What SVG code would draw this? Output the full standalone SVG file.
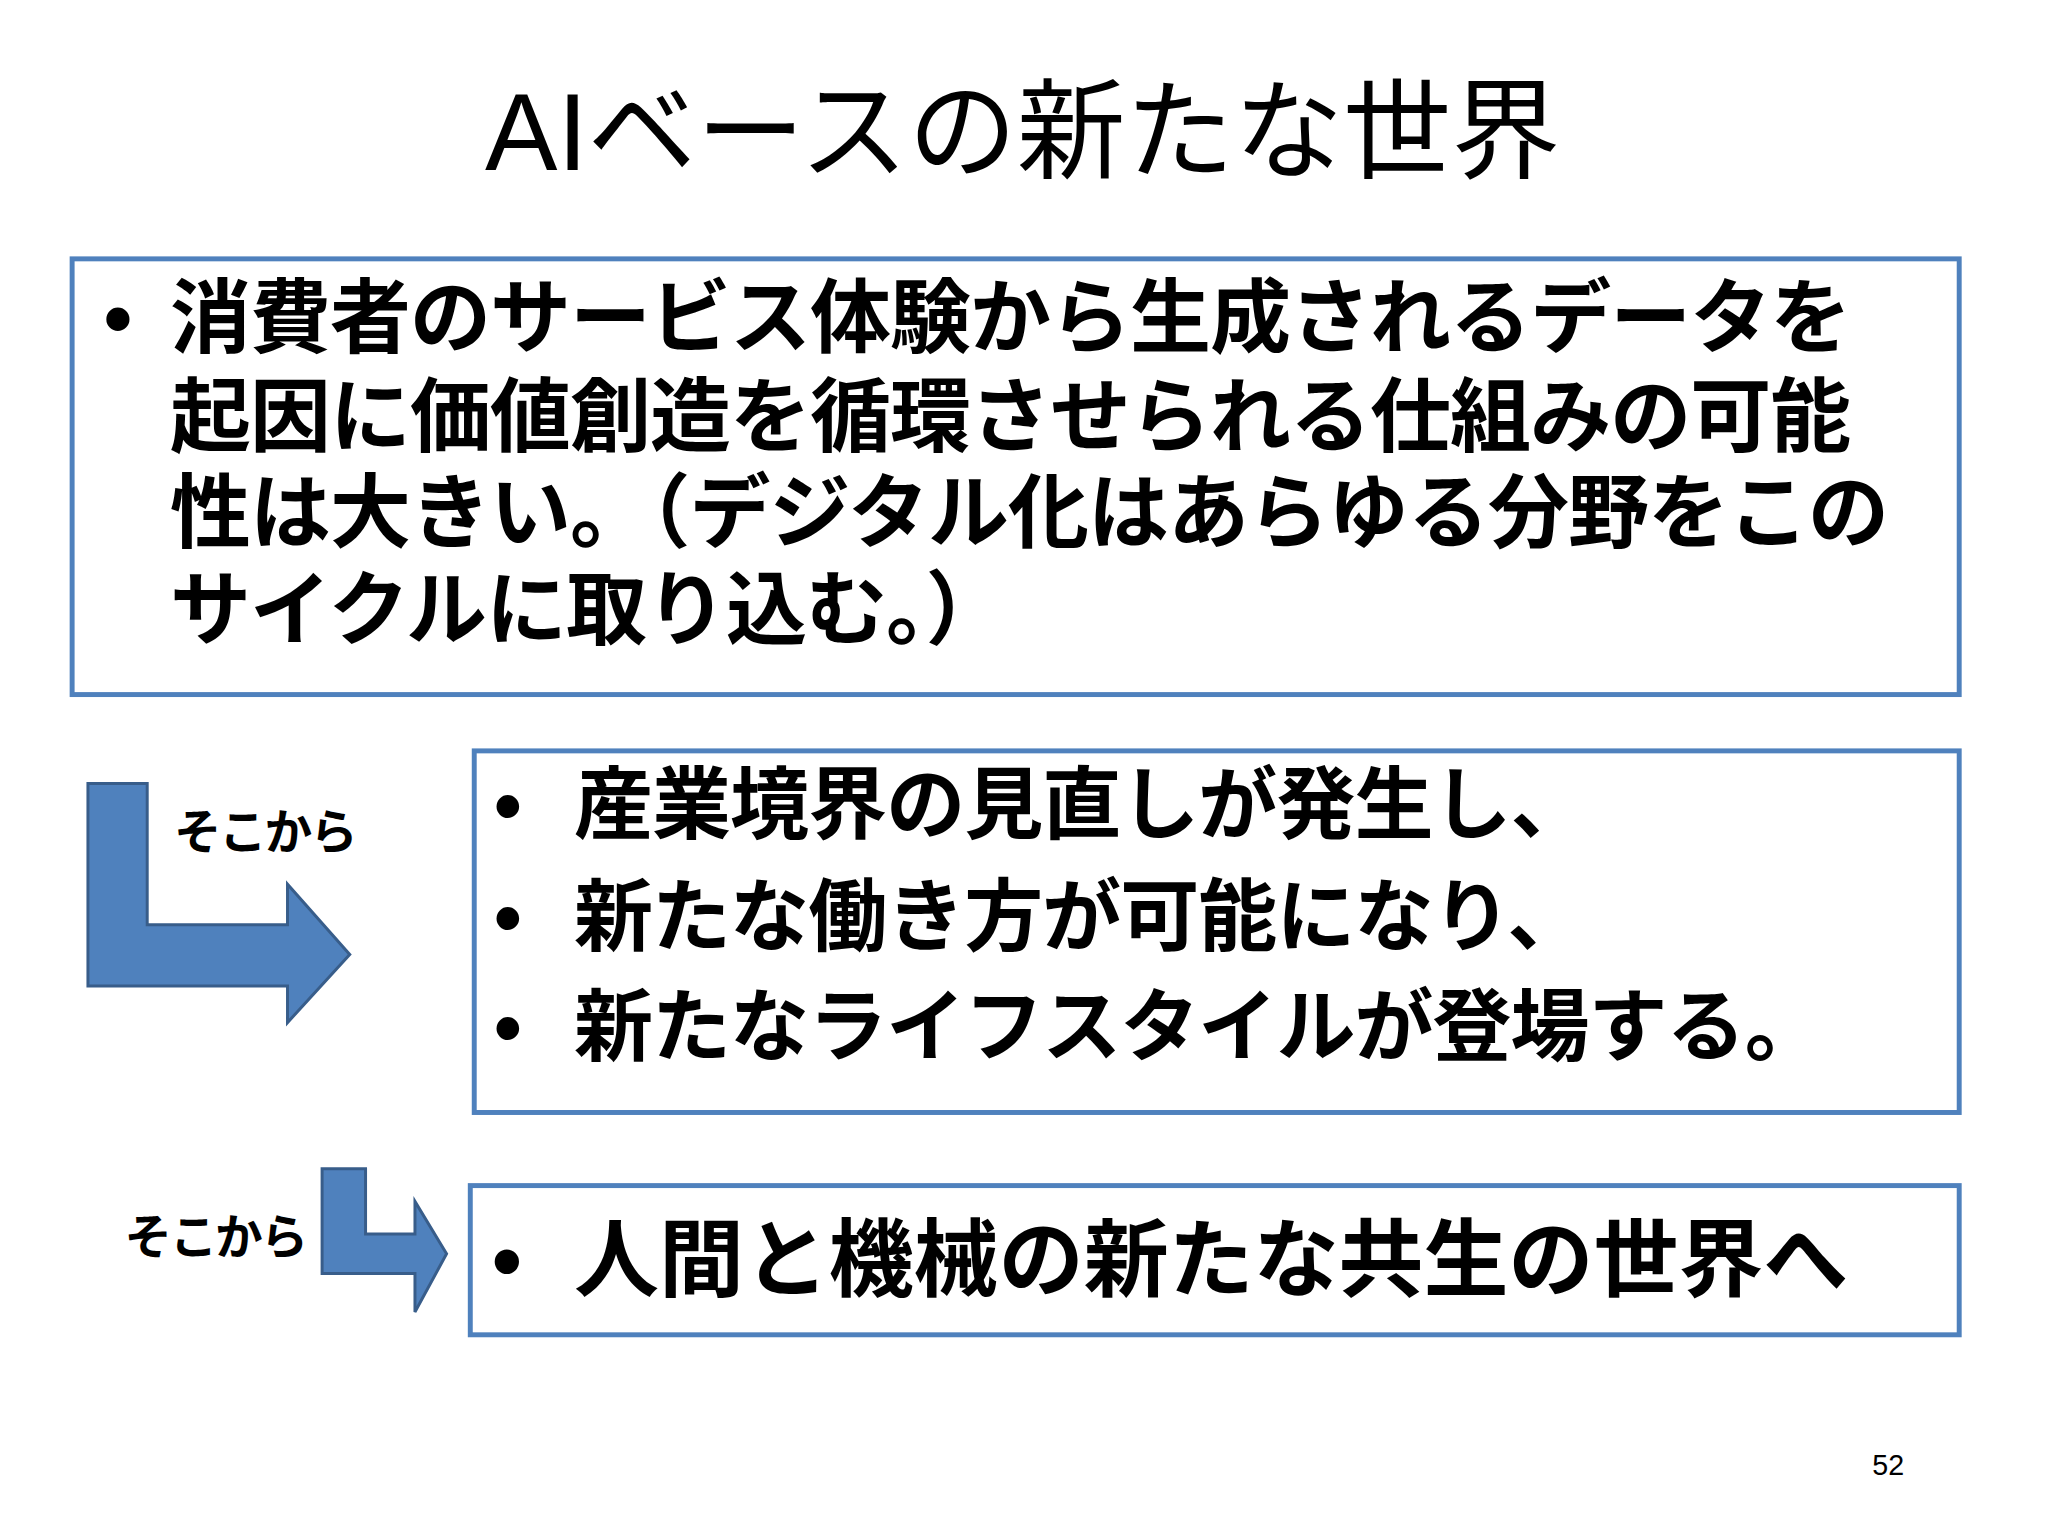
<svg xmlns="http://www.w3.org/2000/svg" width="2048" height="1536" viewBox="0 0 2048 1536">
<style>
.box{fill:#fff;stroke:#4F81BD;stroke-width:5}
.arr{fill:#4F81BD;stroke:#385D8A;stroke-width:3}
.t{font-family:"Liberation Sans","Noto Sans CJK JP",sans-serif;font-weight:bold;fill:#000}
.ti{font-family:"Liberation Sans","Noto Sans CJK JP",sans-serif;fill:#000}
</style>
<rect width="2048" height="1536" fill="#fff"/>
<g transform="scale(0.988)">
<text class="ti" x="1035" y="172" font-size="110" text-anchor="middle">AIベースの新たな世界</text>
<g id="box1">
<rect class="box" x="73" y="262" width="1910" height="441"/>
<text class="t" font-size="82" letter-spacing="-1"><tspan x="105" y="350">•</tspan><tspan x="172" y="350">消費者のサービス体験から生成されるデータを</tspan><tspan x="172" y="450">起因に価値創造を循環させられる仕組みの可能</tspan><tspan x="172" y="548">性は大きい。（デジタル化はあらゆる分野をこの</tspan><tspan x="172" y="646">サイクルに取り込む。）</tspan></text>
</g>
<g id="box2">
<rect class="box" x="480" y="760" width="1503" height="366"/>
<text class="t" font-size="80" letter-spacing="-1"><tspan x="500" y="843">•</tspan><tspan x="581" y="843">産業境界の見直しが発生し、</tspan><tspan x="500" y="956">•</tspan><tspan x="581" y="956">新たな働き方が可能になり、</tspan><tspan x="500" y="1068">•</tspan><tspan x="581" y="1068">新たなライフスタイルが登場する。</tspan></text>
</g>
<g id="box3">
<rect class="box" x="476" y="1200" width="1507" height="151"/>
<text class="t" font-size="86"><tspan x="498" y="1306">•</tspan><tspan x="581" y="1306">人間と機械の新たな共生の世界へ</tspan></text>
</g>
<g id="connectors">
<path class="arr" d="M89 793 H149 V936 H291 V895 L354 966 L291 1035 V998 H89 Z"/>
<path class="arr" d="M326 1183 H370 V1249 H420 V1216 L452 1269 L420 1328 V1289 H326 Z"/>
</g>
<text class="t" x="176" y="859" font-size="48" letter-spacing="-2">そこから</text>
<text class="t" x="126" y="1269" font-size="48" letter-spacing="-2">そこから</text>
<text class="ti" x="1895" y="1493" font-size="29" fill="#888">52</text>
</g>
</svg>
